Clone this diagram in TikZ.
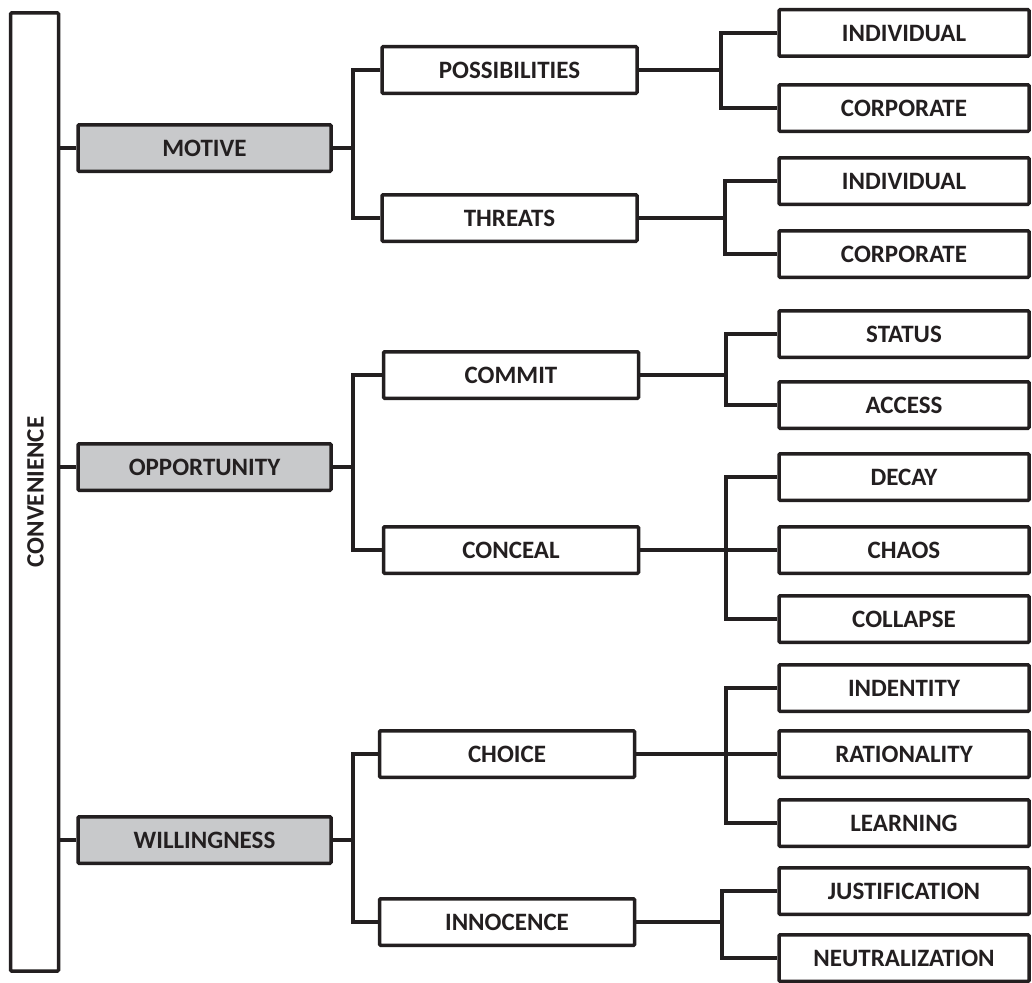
\documentclass[tikz,border=0pt]{standalone}
\usepackage{fontspec}
\setmainfont{Carlito}
\definecolor{ink}{HTML}{231F20}
\definecolor{boxgray}{HTML}{C8C9CB}
\begin{document}
\begin{tikzpicture}[x=1pt,y=-1pt,
  every node/.style={font=\fontsize{25}{29}\selectfont\bfseries, text=ink},
  base/.style={draw=ink, line width=3.5pt, rectangle, inner sep=0pt, rounded corners=1pt},
  convbox/.style={base, fill=white, minimum width=48pt, minimum height=958pt},
  lvlone/.style={base, fill=boxgray, minimum width=253pt, minimum height=46.5pt},
  lvltwo/.style={base, fill=white, minimum width=255pt, minimum height=46.5pt},
  lvlthree/.style={base, fill=white, minimum width=250pt, minimum height=46.5pt},
  conn/.style={draw=ink, line width=3.5pt}
]
\clip (0,0) rectangle (1032,982);
\useasboundingbox (0,0) rectangle (1032,982);

% root
\node[convbox] (conv) at (34.5,492) {};
\node[rotate=90] (convt) at (35.5,492) {CONVENIENCE};

% level 1
\node[lvlone] (mot) at (204.5,148) {MOTIVE};
\node[lvlone] (opp) at (204.5,467) {OPPORTUNITY};
\node[lvlone] (wil) at (204.5,840) {WILLINGNESS};

% level 2
\node[lvltwo] (pos) at (509.5,70) {POSSIBILITIES};
\node[lvltwo] (thr) at (509.5,218) {THREATS};
\node[lvltwo] (com) at (511,375) {COMMIT};
\node[lvltwo] (con) at (511,550) {CONCEAL};
\node[lvltwo] (cho) at (507,754) {CHOICE};
\node[lvltwo] (inn) at (507,922) {INNOCENCE};

% level 3
\node[lvlthree] (ind1) at (904,33) {INDIVIDUAL};
\node[lvlthree] (cor1) at (904,108) {CORPORATE};
\node[lvlthree] (ind2) at (904,181) {INDIVIDUAL};
\node[lvlthree] (cor2) at (904,254) {CORPORATE};
\node[lvlthree] (sta) at (904,334) {STATUS};
\node[lvlthree] (acc) at (904,405) {ACCESS};
\node[lvlthree] (dec) at (904,477) {DECAY};
\node[lvlthree] (cha) at (904,550) {CHAOS};
\node[lvlthree] (col) at (904,619) {COLLAPSE};
\node[lvlthree] (ide) at (904,688) {INDENTITY};
\node[lvlthree] (rat) at (904,754) {RATIONALITY};
\node[lvlthree] (lea) at (904,823) {LEARNING};
\node[lvlthree] (jus) at (904,891) {JUSTIFICATION};
\node[lvlthree] (neu) at (904,958) {NEUTRALIZATION};

% root to level 1
\draw[conn] (conv.east |- mot.west) -- (mot.west);
\draw[conn] (conv.east |- opp.west) -- (opp.west);
\draw[conn] (conv.east |- wil.west) -- (wil.west);

% level 1 brackets
\coordinate (bm) at (353,148);
\coordinate (bo) at (353,467);
\coordinate (bw) at (353,840);
\draw[conn] (mot.east) -- (bm);
\draw[conn] (pos.west) -| (bm) |- (thr.west);
\draw[conn] (opp.east) -- (bo);
\draw[conn] (com.west) -| (bo) |- (con.west);
\draw[conn] (wil.east) -- (bw);
\draw[conn] (cho.west) -| (bw) |- (inn.west);

% level 2 brackets
\coordinate (bp) at (721,70);
\coordinate (bt) at (725,218);
\coordinate (bc) at (726,375);
\coordinate (bn) at (726,550);
\coordinate (bh) at (726,754);
\coordinate (bi) at (722,922);
\draw[conn] (pos.east) -- (bp);
\draw[conn] (ind1.west) -| (bp) |- (cor1.west);
\draw[conn] (thr.east) -- (bt);
\draw[conn] (ind2.west) -| (bt) |- (cor2.west);
\draw[conn] (com.east) -- (bc);
\draw[conn] (sta.west) -| (bc) |- (acc.west);
\draw[conn] (con.east) -- (cha.west);
\draw[conn] (dec.west) -| (bn) |- (col.west);
\draw[conn] (cho.east) -- (rat.west);
\draw[conn] (ide.west) -| (bh) |- (lea.west);
\draw[conn] (inn.east) -- (bi);
\draw[conn] (jus.west) -| (bi) |- (neu.west);
\end{tikzpicture}
\end{document}
